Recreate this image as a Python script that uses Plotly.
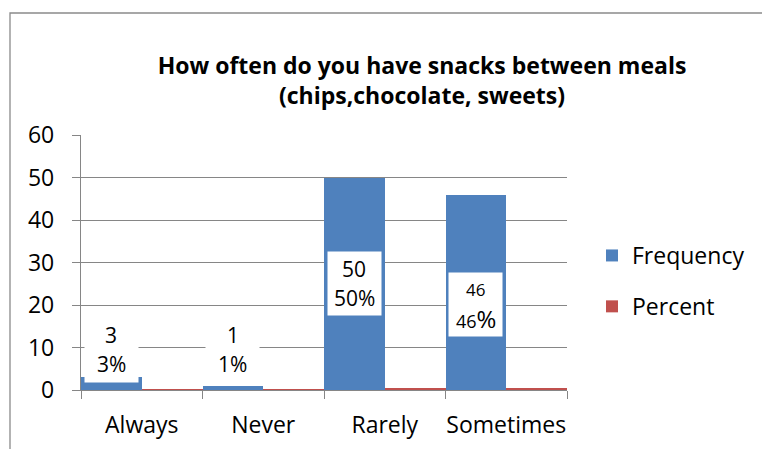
import plotly.graph_objects as go

# Survey answers: how often snacks are eaten between meals
categories = ["Always", "Never", "Rarely", "Sometimes"]
frequency = [3, 1, 50, 46]
percent = [0.03, 0.01, 0.50, 0.46]

BLUE = "#4F81BD"
RED = "#C0504D"
GRID = "#868686"
FONT = "Open Sans"

# plot-area box in pixels
W, H = 762, 449
L, R, T, B = 81, 195, 135, 59
PW, PH = W - L - R, H - T - B

fig = go.Figure()
fig.add_trace(go.Bar(
    x=categories, y=frequency, name="Frequency",
    marker=dict(color=BLUE, line=dict(width=0)),
    legendgroup="f", hoverinfo="x+y",
))
fig.add_trace(go.Bar(
    x=categories, y=percent, name="Percent",
    marker=dict(color=RED, line=dict(width=0)),
    legendgroup="p", hoverinfo="x+y",
))

# data labels: white boxes on the blue bars, lifted clear of the axis for short bars
label_y = [9.4, 9.4, frequency[2] / 2, frequency[3] / 2 - 2.8]
for i, (c, f, p) in enumerate(zip(categories, frequency, percent)):
    xc = i - 0.25  # blue bar sits in the left half of each category
    small = c == "Sometimes"
    fig.add_annotation(
        x=xc, y=label_y[i], xref="x", yref="y",
        text=" ", showarrow=False, bgcolor="white",
        width=53, height=63, borderpad=0,
    )
    fig.add_annotation(
        x=xc, y=label_y[i], xref="x", yref="y", yshift=15,
        text=f"{f}", showarrow=False,
        font=dict(family=FONT, size=17 if small else 21, color="#000"),
    )
    pct_txt = f"{round(p * 100)}"
    pct_txt += "<span style='font-size:24px'>%</span>" if small else "%"
    fig.add_annotation(
        x=xc, y=label_y[i], xref="x", yref="y", yshift=-14,
        text=pct_txt, showarrow=False,
        font=dict(family=FONT, size=18 if small else 21, color="#000"),
    )

# outer chart border (runs off the right and bottom edges)
fig.add_shape(
    type="rect", xref="paper", yref="paper",
    x0=(10 - L) / PW, x1=(820 - L) / PW,
    y0=(H - B - 490) / PH, y1=(H - B - 13) / PH,
    line=dict(color="#8A8A8A", width=1.3), fillcolor="rgba(0,0,0,0)",
    layer="below",
)

fig.update_layout(
    width=W, height=H,
    margin=dict(l=L, r=R, t=T, b=B, pad=0, autoexpand=False),
    paper_bgcolor="white", plot_bgcolor="white",
    barmode="group", bargap=0, bargroupgap=0,
    font=dict(family=FONT, size=23, color="#000"),
    title=dict(
        text="<b>How often do you have snacks between meals<br>(chips,chocolate, sweets)</b>",
        x=422 / W, xanchor="center", y=1 - 74 / H, yanchor="middle",
        font=dict(family=FONT, size=23, color="#000"),
    ),
    showlegend=True,
    legend=dict(
        x=(592 - L) / PW, xanchor="left", y=(H - B - 281) / PH, yanchor="middle",
        traceorder="grouped", tracegroupgap=18,
        font=dict(family=FONT, size=23, color="#000"),
        bgcolor="rgba(0,0,0,0)", itemwidth=30,
    ),
    xaxis=dict(
        type="category", showline=True, linecolor=GRID, linewidth=1.3,
        ticks="outside", tickson="boundaries", ticklen=8, tickcolor=GRID, tickwidth=1.3,
        showgrid=False, ticklabelstandoff=14, tickangle=0, automargin=False,
        tickfont=dict(family=FONT, size=23, color="#000"),
        fixedrange=True,
    ),
    yaxis=dict(
        range=[0, 60], dtick=10, showline=True, linecolor=GRID, linewidth=1.3,
        ticks="outside", ticklen=8, tickcolor=GRID, tickwidth=1.3,
        showgrid=True, gridcolor=GRID, gridwidth=1.3, zeroline=False,
        ticklabelstandoff=13, automargin=False,
        tickfont=dict(family=FONT, size=23, color="#000"),
        fixedrange=True,
    ),
)

fig.write_html("out.html")
